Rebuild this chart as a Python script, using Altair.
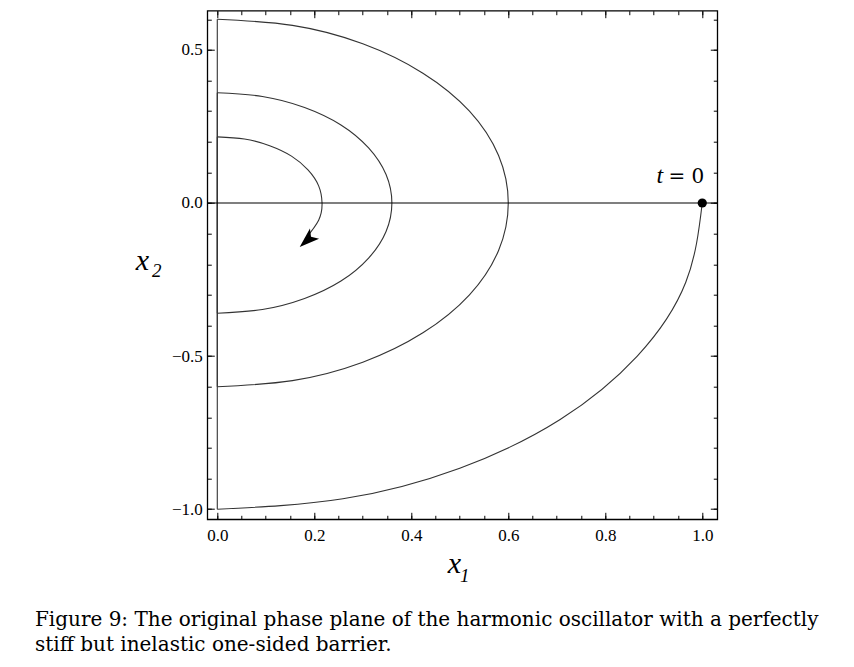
import altair as alt
import pandas as pd

# ---- trajectory pieces (x1, x2) ----
outer_x1 = [1.0, 0.966, 0.866, 0.707, 0.5, 0.259, 0.0]
outer_x2 = [0.0, -0.259, -0.5, -0.707, -0.866, -0.966, -1.0]

jump1_x1 = [0.0, 0.0]
jump1_x2 = [-1.0, 0.6]

arc2_x1 = [0.0, 0.155, 0.3, 0.424, 0.52, 0.58, 0.6, 0.58, 0.52, 0.424, 0.3, 0.155, 0.0]
arc2_x2 = [0.6, 0.58, 0.52, 0.424, 0.3, 0.155, 0.0, -0.155, -0.3, -0.424, -0.52, -0.58, -0.6]

jump2_x1 = [0.0, 0.0]
jump2_x2 = [-0.6, 0.36]

arc3_x1 = [0.0, 0.093, 0.18, 0.255, 0.312, 0.348, 0.36, 0.348, 0.312, 0.255, 0.18, 0.093, 0.0]
arc3_x2 = [0.36, 0.348, 0.312, 0.255, 0.18, 0.093, 0.0, -0.093, -0.18, -0.255, -0.312, -0.348, -0.36]

jump3_x1 = [0.0, 0.0]
jump3_x2 = [-0.36, 0.216]

arc4_x1 = [0.0, 0.056, 0.108, 0.153, 0.187, 0.209, 0.216, 0.209, 0.181]
arc4_x2 = [0.216, 0.209, 0.187, 0.153, 0.108, 0.056, 0.0, -0.056, -0.118]

start_x1 = [1.0]
start_x2 = [0.0]

arrow_x1 = [0.186]
arrow_x2 = [-0.1205]

label_x1 = [1.0]
label_x2 = [0.0]
label_t = ["t"]
label_eq = ["= 0"]

axis_line_x2 = [0.0]

x_major = [0.0, 0.2, 0.4, 0.6, 0.8, 1.0]
x_minor = [0.0, 0.05, 0.1, 0.15, 0.2, 0.25, 0.3, 0.35, 0.4, 0.45, 0.5,
           0.55, 0.6, 0.65, 0.7, 0.75, 0.8, 0.85, 0.9, 0.95, 1.0]
y_major = [-1.0, -0.5, 0.0, 0.5]
y_minor = [-1.0, -0.9, -0.8, -0.7, -0.6, -0.5, -0.4, -0.3, -0.2, -0.1,
           0.0, 0.1, 0.2, 0.3, 0.4, 0.5, 0.6]

caption = [
    "Figure 9: The original phase plane of the harmonic oscillator with a perfectly",
    "stiff but inelastic one-sided barrier.",
]

X_DOMAIN = [-0.0206, 1.031]
Y_DOMAIN = [-1.033, 0.628]

segments = [
    ("a1", outer_x1, outer_x2), ("j1", jump1_x1, jump1_x2),
    ("a2", arc2_x1, arc2_x2), ("j2", jump2_x1, jump2_x2),
    ("a3", arc3_x1, arc3_x2), ("j3", jump3_x1, jump3_x2),
    ("a4", arc4_x1, arc4_x2),
]
rows = []
for name, xs_, ys_ in segments:
    for i, (a, b) in enumerate(zip(xs_, ys_)):
        rows.append({"seg": name, "i": i, "x1": a, "x2": b})
traj = pd.DataFrame(rows)

start_df = pd.DataFrame({"x1": start_x1, "x2": start_x2})
arrow_df = pd.DataFrame({"x1": arrow_x1, "x2": arrow_x2})
lab_t_df = pd.DataFrame({"x1": label_x1, "x2": label_x2, "txt": label_t})
lab_eq_df = pd.DataFrame({"x1": label_x1, "x2": label_x2, "txt": label_eq})
rule_df = pd.DataFrame({"x2": axis_line_x2})

xsc = alt.Scale(domain=X_DOMAIN, nice=False, zero=False)
ysc = alt.Scale(domain=Y_DOMAIN, nice=False, zero=False)

SERIF = "Liberation Serif"


def tick_axis(orient, values, size, **kw):
    opts = dict(orient=orient, values=values, tickSize=size, offset=-size,
                labels=False, domain=False, grid=False, ticks=True,
                tickColor="black", tickWidth=1)
    opts.update(kw)
    if "title" not in opts:
        opts["title"] = None
    return alt.Axis(**opts)


lab_common = dict(labelFont=SERIF, labelFontSize=17, labelColor="black",
                  format=".1f", labelFlush=False, labelOverlap=False)
title_big = dict(titleFont=SERIF, titleFontStyle="italic", titleFontSize=30,
                 titleFontWeight="normal", titleColor="black",
                 titleAlign="center", titleBaseline="alphabetic", titleAngle=0)
title_sub = dict(titleFont=SERIF, titleFontStyle="italic", titleFontSize=19,
                 titleFontWeight="normal", titleColor="black",
                 titleAlign="center", titleBaseline="alphabetic", titleAngle=0)

x_main_axis = alt.Axis(orient="bottom", values=x_major, tickSize=7, offset=-7,
                       domain=False, grid=False, tickColor="black", tickWidth=1,
                       labelPadding=8, **lab_common,
                       title="x", titleX=246.5, titleY=60.7, **title_big)
y_main_axis = alt.Axis(orient="left", values=y_major, tickSize=7, offset=-7,
                       domain=False, grid=False, tickColor="black", tickWidth=1,
                       labelPadding=5, **lab_common,
                       title="x", titleX=-72.5, titleY=259.3, **title_big)

lines = alt.Chart(traj).mark_line(interpolate="natural", color="#333333", strokeWidth=1.1).encode(
    x=alt.X("x1:Q", scale=xsc, axis=x_main_axis),
    y=alt.Y("x2:Q", scale=ysc, axis=y_main_axis),
    detail="seg:N",
    order="i:Q",
)

rule = alt.Chart(rule_df).mark_rule(color="black", strokeWidth=1.1).encode(
    y=alt.Y("x2:Q", scale=ysc, axis=None)
)

start_pt = alt.Chart(start_df).mark_point(filled=True, color="black", size=85, opacity=1).encode(
    x=alt.X("x1:Q", scale=xsc, axis=tick_axis("top", x_major, 7)),
    y=alt.Y("x2:Q", scale=ysc, axis=tick_axis("right", y_major, 7)),
)

arrow = alt.Chart(arrow_df).mark_point(
    shape="M0,-1L0.65,0.9L0,0.45L-0.65,0.9Z", filled=True, color="black",
    size=440, angle=228, opacity=1
).encode(
    x=alt.X("x1:Q", scale=xsc, axis=tick_axis("bottom", x_minor, 4, title="1",
                                               titleX=257, titleY=66.5, **title_sub)),
    y=alt.Y("x2:Q", scale=ysc, axis=tick_axis("left", y_minor, 4, title="2",
                                               titleX=-55, titleY=265.8, **title_sub)),
)

t_text = alt.Chart(lab_t_df).mark_text(
    font=SERIF, fontStyle="italic", fontSize=24, align="right",
    baseline="alphabetic", dx=-39, dy=-20, color="black"
).encode(
    x=alt.X("x1:Q", scale=xsc, axis=tick_axis("top", x_minor, 4)),
    y=alt.Y("x2:Q", scale=ysc, axis=tick_axis("right", y_minor, 4)),
    text="txt:N",
)

eq_text = alt.Chart(lab_eq_df).mark_text(
    font="DejaVu Serif", fontSize=20, align="right",
    baseline="alphabetic", dx=2, dy=-20, color="black"
).encode(
    x=alt.X("x1:Q", scale=xsc, axis=None),
    y=alt.Y("x2:Q", scale=ysc, axis=None),
    text="txt:N",
)

chart = alt.layer(lines, rule, start_pt, arrow, t_text, eq_text).resolve_scale(
    x="shared", y="shared"
).resolve_axis(
    x="independent", y="independent"
).properties(
    width=510,
    height=508.6,
    autosize=alt.AutoSizeParams(type="none"),
    padding={"left": 199.3, "top": 2.7, "right": 120, "bottom": 139},
    title=alt.TitleParams(
        text=caption, orient="bottom", anchor="start", frame="group",
        dx=-172.3, offset=24, font="DejaVu Serif", fontSize=20,
        fontWeight="normal", color="black", lineHeight=25,
    ),
).configure_view(
    stroke="black", strokeWidth=1.3
)

chart.save("out.html", embed_options={"renderer": "svg", "actions": False})
